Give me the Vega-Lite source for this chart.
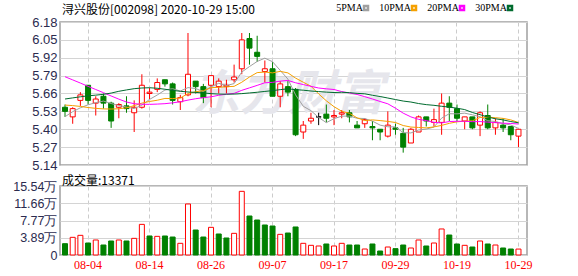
{
  "$schema": "https://vega.github.io/schema/vega-lite/v6.json",
  "padding": {"left": 11, "top": 3, "right": 0, "bottom": 0},
  "background": "white",
  "bounds": "flush",
  "spacing": 21,
  "config": {
    "view": {"stroke": "#a0a0a0", "strokeWidth": 1.5},
    "axis": {"ticks": false, "domain": false, "title": null, "gridColor": "#d4d4d4", "gridWidth": 1, "labelFont": "Liberation Sans", "labelFontSize": 13, "labelColor": "#2b2b4f", "labelPadding": 3, "labelOverlap": false},
    "title": {"font": "Noto Sans CJK SC", "fontSize": 12, "fontWeight": "normal", "color": "#000000", "anchor": "start", "frame": "group"}
  },
  "data": {"values": [
    {"date":"07-30","open":5.56,"high":5.58,"low":5.49,"close":5.53,"vol":2.55,"chg":-0.02,"5PMA":5.491,"10PMA":5.576,"20PMA":5.782,"30PMA":5.620},
    {"date":"07-31","open":5.49,"high":5.56,"low":5.44,"close":5.55,"vol":3.98,"chg":0.02,"5PMA":5.528,"10PMA":5.572,"20PMA":5.759,"30PMA":5.628},
    {"date":"08-03","open":5.61,"high":5.67,"low":5.57,"close":5.65,"vol":4.43,"chg":0.10,"5PMA":5.556,"10PMA":5.566,"20PMA":5.736,"30PMA":5.636},
    {"date":"08-04","open":5.72,"high":5.72,"low":5.58,"close":5.61,"vol":2.70,"chg":-0.04,"5PMA":5.578,"10PMA":5.558,"20PMA":5.712,"30PMA":5.643},
    {"date":"08-05","open":5.59,"high":5.64,"low":5.50,"close":5.62,"vol":3.38,"chg":0.01,"5PMA":5.593,"10PMA":5.552,"20PMA":5.689,"30PMA":5.648},
    {"date":"08-06","open":5.64,"high":5.66,"low":5.55,"close":5.59,"vol":2.25,"chg":-0.03,"5PMA":5.605,"10PMA":5.548,"20PMA":5.666,"30PMA":5.654},
    {"date":"08-07","open":5.59,"high":5.60,"low":5.41,"close":5.46,"vol":3.15,"chg":-0.13,"5PMA":5.587,"10PMA":5.547,"20PMA":5.642,"30PMA":5.663},
    {"date":"08-10","open":5.56,"high":5.59,"low":5.48,"close":5.58,"vol":3.38,"chg":0.12,"5PMA":5.573,"10PMA":5.549,"20PMA":5.619,"30PMA":5.676},
    {"date":"08-11","open":5.57,"high":5.64,"low":5.52,"close":5.55,"vol":3.15,"chg":-0.03,"5PMA":5.562,"10PMA":5.556,"20PMA":5.598,"30PMA":5.686},
    {"date":"08-12","open":5.52,"high":5.61,"low":5.38,"close":5.56,"vol":3.75,"chg":0.01,"5PMA":5.550,"10PMA":5.572,"20PMA":5.586,"30PMA":5.695},
    {"date":"08-13","open":5.56,"high":5.80,"low":5.55,"close":5.72,"vol":6.90,"chg":0.16,"5PMA":5.575,"10PMA":5.590,"20PMA":5.582,"30PMA":5.700},
    {"date":"08-14","open":5.66,"high":5.70,"low":5.62,"close":5.67,"vol":4.28,"chg":-0.05,"5PMA":5.617,"10PMA":5.602,"20PMA":5.581,"30PMA":5.702},
    {"date":"08-17","open":5.69,"high":5.77,"low":5.67,"close":5.74,"vol":4.20,"chg":0.07,"5PMA":5.649,"10PMA":5.611,"20PMA":5.583,"30PMA":5.698},
    {"date":"08-18","open":5.76,"high":5.76,"low":5.71,"close":5.73,"vol":4.28,"chg":-0.01,"5PMA":5.685,"10PMA":5.624,"20PMA":5.586,"30PMA":5.691},
    {"date":"08-19","open":5.73,"high":5.74,"low":5.58,"close":5.61,"vol":4.05,"chg":-0.12,"5PMA":5.695,"10PMA":5.623,"20PMA":5.592,"30PMA":5.683},
    {"date":"08-20","open":5.60,"high":5.65,"low":5.54,"close":5.63,"vol":2.63,"chg":0.02,"5PMA":5.678,"10PMA":5.627,"20PMA":5.600,"30PMA":5.676},
    {"date":"08-21","open":5.65,"high":6.10,"low":5.64,"close":5.80,"vol":11.49,"chg":0.17,"5PMA":5.703,"10PMA":5.660,"20PMA":5.612,"30PMA":5.671},
    {"date":"08-24","open":5.75,"high":5.75,"low":5.66,"close":5.71,"vol":5.63,"chg":-0.09,"5PMA":5.696,"10PMA":5.673,"20PMA":5.622,"30PMA":5.668},
    {"date":"08-25","open":5.71,"high":5.73,"low":5.59,"close":5.63,"vol":4.05,"chg":-0.08,"5PMA":5.674,"10PMA":5.680,"20PMA":5.630,"30PMA":5.664},
    {"date":"08-26","open":5.72,"high":5.79,"low":5.56,"close":5.79,"vol":6.23,"chg":0.16,"5PMA":5.709,"10PMA":5.702,"20PMA":5.636,"30PMA":5.659},
    {"date":"08-27","open":5.71,"high":5.77,"low":5.66,"close":5.75,"vol":4.73,"chg":-0.04,"5PMA":5.734,"10PMA":5.705,"20PMA":5.647,"30PMA":5.656},
    {"date":"08-28","open":5.71,"high":5.76,"low":5.66,"close":5.72,"vol":3.83,"chg":-0.03,"5PMA":5.718,"10PMA":5.709,"20PMA":5.655,"30PMA":5.655},
    {"date":"08-31","open":5.76,"high":5.87,"low":5.74,"close":5.78,"vol":4.88,"chg":0.06,"5PMA":5.732,"10PMA":5.712,"20PMA":5.661,"30PMA":5.656},
    {"date":"09-01","open":5.84,"high":6.10,"low":5.80,"close":6.05,"vol":14.34,"chg":0.27,"5PMA":5.816,"10PMA":5.742,"20PMA":5.683,"30PMA":5.659},
    {"date":"09-02","open":6.06,"high":6.10,"low":5.87,"close":5.99,"vol":8.78,"chg":-0.06,"5PMA":5.856,"10PMA":5.780,"20PMA":5.701,"30PMA":5.664},
    {"date":"09-03","open":5.96,"high":6.08,"low":5.89,"close":5.93,"vol":7.88,"chg":-0.06,"5PMA":5.893,"10PMA":5.812,"20PMA":5.719,"30PMA":5.669},
    {"date":"09-04","open":5.82,"high":5.90,"low":5.74,"close":5.84,"vol":6.76,"chg":-0.09,"5PMA":5.917,"10PMA":5.816,"20PMA":5.738,"30PMA":5.675},
    {"date":"09-07","open":5.84,"high":5.89,"low":5.64,"close":5.64,"vol":6.53,"chg":-0.20,"5PMA":5.891,"10PMA":5.810,"20PMA":5.741,"30PMA":5.681},
    {"date":"09-08","open":5.64,"high":5.75,"low":5.56,"close":5.73,"vol":4.65,"chg":0.09,"5PMA":5.828,"10PMA":5.821,"20PMA":5.750,"30PMA":5.688},
    {"date":"09-09","open":5.71,"high":5.75,"low":5.64,"close":5.67,"vol":4.95,"chg":-0.06,"5PMA":5.765,"10PMA":5.810,"20PMA":5.755,"30PMA":5.694},
    {"date":"09-10","open":5.69,"high":5.70,"low":5.35,"close":5.36,"vol":6.31,"chg":-0.31,"5PMA":5.650,"10PMA":5.772,"20PMA":5.738,"30PMA":5.688},
    {"date":"09-11","open":5.38,"high":5.46,"low":5.33,"close":5.43,"vol":2.63,"chg":0.07,"5PMA":5.567,"10PMA":5.742,"20PMA":5.725,"30PMA":5.684},
    {"date":"09-14","open":5.46,"high":5.52,"low":5.44,"close":5.48,"vol":2.18,"chg":0.05,"5PMA":5.535,"10PMA":5.713,"20PMA":5.712,"30PMA":5.678},
    {"date":"09-15","open":5.49,"high":5.52,"low":5.43,"close":5.49,"vol":2.03,"chg":0.01,"5PMA":5.486,"10PMA":5.657,"20PMA":5.700,"30PMA":5.674},
    {"date":"09-16","open":5.51,"high":5.58,"low":5.45,"close":5.48,"vol":2.48,"chg":-0.01,"5PMA":5.448,"10PMA":5.607,"20PMA":5.694,"30PMA":5.670},
    {"date":"09-17","open":5.49,"high":5.54,"low":5.43,"close":5.50,"vol":2.03,"chg":0.02,"5PMA":5.477,"10PMA":5.564,"20PMA":5.689,"30PMA":5.667},
    {"date":"09-18","open":5.51,"high":5.54,"low":5.48,"close":5.52,"vol":2.63,"chg":0.02,"5PMA":5.495,"10PMA":5.531,"20PMA":5.674,"30PMA":5.669},
    {"date":"09-21","open":5.52,"high":5.54,"low":5.45,"close":5.49,"vol":2.25,"chg":-0.03,"5PMA":5.496,"10PMA":5.516,"20PMA":5.664,"30PMA":5.666},
    {"date":"09-22","open":5.43,"high":5.46,"low":5.41,"close":5.41,"vol":2.25,"chg":-0.08,"5PMA":5.480,"10PMA":5.483,"20PMA":5.653,"30PMA":5.661},
    {"date":"09-23","open":5.44,"high":5.48,"low":5.41,"close":5.47,"vol":1.35,"chg":0.06,"5PMA":5.478,"10PMA":5.463,"20PMA":5.637,"30PMA":5.658},
    {"date":"09-24","open":5.42,"high":5.46,"low":5.32,"close":5.41,"vol":2.48,"chg":-0.06,"5PMA":5.459,"10PMA":5.468,"20PMA":5.620,"30PMA":5.647},
    {"date":"09-25","open":5.40,"high":5.40,"low":5.32,"close":5.38,"vol":0.90,"chg":-0.03,"5PMA":5.430,"10PMA":5.463,"20PMA":5.602,"30PMA":5.638},
    {"date":"09-28","open":5.35,"high":5.53,"low":5.34,"close":5.43,"vol":1.80,"chg":0.05,"5PMA":5.418,"10PMA":5.457,"20PMA":5.585,"30PMA":5.627},
    {"date":"09-29","open":5.41,"high":5.44,"low":5.36,"close":5.40,"vol":1.43,"chg":-0.03,"5PMA":5.417,"10PMA":5.449,"20PMA":5.553,"30PMA":5.616},
    {"date":"09-30","open":5.37,"high":5.41,"low":5.23,"close":5.27,"vol":2.25,"chg":-0.13,"5PMA":5.375,"10PMA":5.427,"20PMA":5.517,"30PMA":5.605},
    {"date":"10-09","open":5.30,"high":5.41,"low":5.30,"close":5.40,"vol":1.58,"chg":0.13,"5PMA":5.373,"10PMA":5.416,"20PMA":5.490,"30PMA":5.598},
    {"date":"10-12","open":5.38,"high":5.50,"low":5.38,"close":5.49,"vol":3.38,"chg":0.09,"5PMA":5.395,"10PMA":5.413,"20PMA":5.472,"30PMA":5.587},
    {"date":"10-13","open":5.49,"high":5.49,"low":5.42,"close":5.46,"vol":2.03,"chg":-0.03,"5PMA":5.401,"10PMA":5.410,"20PMA":5.463,"30PMA":5.579},
    {"date":"10-14","open":5.45,"high":5.55,"low":5.42,"close":5.47,"vol":2.70,"chg":0.01,"5PMA":5.416,"10PMA":5.417,"20PMA":5.450,"30PMA":5.574},
    {"date":"10-15","open":5.45,"high":5.66,"low":5.36,"close":5.59,"vol":5.86,"chg":0.12,"5PMA":5.481,"10PMA":5.428,"20PMA":5.446,"30PMA":5.567},
    {"date":"10-16","open":5.59,"high":5.64,"low":5.46,"close":5.56,"vol":4.50,"chg":-0.03,"5PMA":5.513,"10PMA":5.443,"20PMA":5.456,"30PMA":5.561},
    {"date":"10-19","open":5.55,"high":5.58,"low":5.46,"close":5.48,"vol":2.48,"chg":-0.08,"5PMA":5.512,"10PMA":5.454,"20PMA":5.458,"30PMA":5.553},
    {"date":"10-20","open":5.46,"high":5.49,"low":5.40,"close":5.49,"vol":2.18,"chg":0.01,"5PMA":5.517,"10PMA":5.459,"20PMA":5.458,"30PMA":5.543},
    {"date":"10-21","open":5.49,"high":5.49,"low":5.40,"close":5.41,"vol":1.80,"chg":-0.08,"5PMA":5.505,"10PMA":5.461,"20PMA":5.455,"30PMA":5.522},
    {"date":"10-22","open":5.43,"high":5.53,"low":5.35,"close":5.52,"vol":3.15,"chg":0.11,"5PMA":5.491,"10PMA":5.486,"20PMA":5.456,"30PMA":5.506},
    {"date":"10-23","open":5.50,"high":5.58,"low":5.40,"close":5.41,"vol":2.48,"chg":-0.11,"5PMA":5.462,"10PMA":5.488,"20PMA":5.452,"30PMA":5.489},
    {"date":"10-26","open":5.41,"high":5.48,"low":5.36,"close":5.45,"vol":2.25,"chg":0.04,"5PMA":5.456,"10PMA":5.484,"20PMA":5.448,"30PMA":5.476},
    {"date":"10-27","open":5.43,"high":5.48,"low":5.38,"close":5.41,"vol":1.58,"chg":-0.04,"5PMA":5.441,"10PMA":5.479,"20PMA":5.444,"30PMA":5.468},
    {"date":"10-28","open":5.42,"high":5.42,"low":5.32,"close":5.36,"vol":1.35,"chg":-0.05,"5PMA":5.431,"10PMA":5.468,"20PMA":5.442,"30PMA":5.456},
    {"date":"10-29","open":5.35,"high":5.40,"low":5.27,"close":5.40,"vol":1.3371,"chg":0.04,"5PMA":5.406,"10PMA":5.449,"20PMA":5.438,"30PMA":5.447}
  ]},
  "vconcat": [
    {
      "width": 467,
      "height": 143,
      "title": {"text": "浔兴股份[002098] 2020-10-29 15:00", "offset": -1, "dx": 2},
      "encoding": {
        "x": {
          "field": "date", "type": "ordinal", "sort": "ascending",
          "scale": {"type": "band", "paddingInner": 0, "paddingOuter": 0.38, "align": 0.2},
          "axis": {"values": ["08-04","08-14","08-26","09-07","09-17","09-29","10-19","10-29"], "labels": false, "grid": true, "gridDash": [4, 3], "gridColor": "#cccccc", "bandPosition": 0.5}
        }
      },
      "layer": [
        {
          "data": {"values": [{"t": "东方财富"}]},
          "mark": {"type": "text", "font": "Noto Sans CJK SC", "fontSize": 48, "fontWeight": "bold", "fontStyle": "italic", "color": "#e6e6ec", "baseline": "middle", "align": "center"},
          "encoding": {
            "x": {"datum": "09-09"},
            "y": {"datum": 5.64, "type": "quantitative",
                  "scale": {"domain": [5.14, 6.18], "nice": false, "zero": false},
                  "axis": {"values": [6.18, 6.05, 5.92, 5.79, 5.66, 5.53, 5.40, 5.27, 5.14], "tickCount": 20, "format": ".2f", "grid": true, "labelOverlap": false}},
            "text": {"field": "t"}
          }
        },
        {
          "mark": {"type": "rule", "strokeWidth": 1},
          "encoding": {
            "y": {"field": "low", "type": "quantitative",
                  "axis": {"values": [6.18, 6.05, 5.92, 5.79, 5.66, 5.53, 5.40, 5.27, 5.14], "tickCount": 20, "format": ".2f", "grid": true, "labelOverlap": false}},
            "y2": {"field": "high"},
            "stroke": {"condition": [{"test": "datum.close < datum.open", "value": "#008000"}, {"test": "datum.close == datum.open", "value": "#000000"}], "value": "#ff0000"}
          }
        },
        {
          "mark": {"type": "bar", "width": 5, "strokeWidth": 1},
          "encoding": {
            "y": {"field": "open", "type": "quantitative", "axis": {"tickCount": 20}},
            "y2": {"field": "close"},
            "fill": {"condition": {"test": "datum.close < datum.open", "value": "#008000"}, "value": "#ffffff"},
            "stroke": {"condition": [{"test": "datum.close < datum.open", "value": "#008000"}, {"test": "datum.close == datum.open", "value": "#000000"}], "value": "#ff0000"}
          }
        },
        {
          "transform": [{"fold": ["5PMA", "10PMA", "20PMA", "30PMA"], "as": ["ma", "val"]}],
          "mark": {"type": "line", "strokeWidth": 1},
          "encoding": {
            "y": {"field": "val", "type": "quantitative", "axis": {"tickCount": 20}},
            "color": {
              "field": "ma", "type": "nominal",
              "scale": {"domain": ["5PMA", "10PMA", "20PMA", "30PMA"], "range": ["#a0a0a0", "#f5a000", "#ff00ff", "#006b2e"]},
              "legend": {"orient": "none", "legendX": 267, "legendY": -19, "direction": "horizontal", "title": null, "symbolType": "square", "symbolSize": 16, "symbolStrokeWidth": 2.5, "symbolOffset": 34, "labelAlign": "right", "labelOffset": -8, "labelFont": "Liberation Serif", "labelFontSize": 10, "labelColor": "#000000", "columnPadding": 2, "padding": 0}
            }
          }
        }
      ]
    },
    {
      "width": 467,
      "height": 69,
      "title": {"text": "成交量:13371", "offset": -8, "dx": 2},
      "mark": {"type": "bar", "width": 5, "strokeWidth": 1},
      "encoding": {
        "x": {
          "field": "date", "type": "ordinal", "sort": "ascending",
          "scale": {"type": "band", "paddingInner": 0, "paddingOuter": 0.38, "align": 0.2},
          "axis": {"values": ["08-04","08-14","08-26","09-07","09-17","09-29","10-19","10-29"], "grid": true, "gridDash": [4, 3], "gridColor": "#cccccc", "bandPosition": 0.5, "labelAngle": 0, "labelColor": "#ff0000", "labelFont": "Liberation Serif", "labelFontSize": 12, "labelPadding": 4}
        },
        "y": {
          "field": "vol", "type": "quantitative",
          "scale": {"domain": [0, 15.54], "nice": false},
          "axis": {"values": [0, 3.886, 7.77, 11.656, 15.54], "tickCount": 20, "grid": true, "labelFontSize": 12.5, "labelExpr": "datum.value == 0 ? '0' : format(datum.value, '.2f') + '万'"}
        },
        "fill": {"condition": {"test": "datum.chg < 0", "value": "#008000"}, "value": "#ffffff"},
        "stroke": {"condition": {"test": "datum.chg < 0", "value": "#008000"}, "value": "#ff0000"}
      }
    }
  ]
}
